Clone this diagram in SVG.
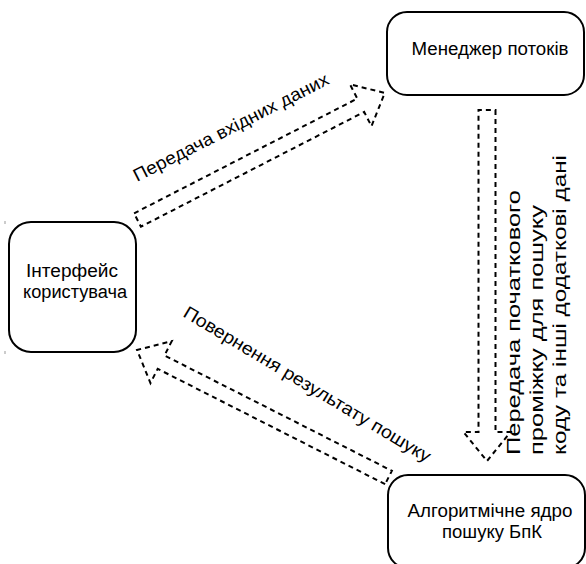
<svg xmlns="http://www.w3.org/2000/svg" width="586" height="564" viewBox="0 0 586 564">
<style>
.box{fill:#fff;stroke:#000;stroke-width:2}
.arr{fill:none;stroke:#000;stroke-width:2;stroke-dasharray:5,4;stroke-linejoin:miter}
text{font-family:"Liberation Sans",Arial,sans-serif;font-size:18px;fill:#000}
.c{text-anchor:middle}
.tick{stroke:#999;stroke-width:1}
</style>
<rect width="586" height="564" fill="#fff"/>
<line class="tick" x1="5" y1="221" x2="5" y2="224"/>
<line class="tick" x1="5" y1="351" x2="5" y2="354"/>
<g id="connectors">
  <g id="arrow-input" transform="translate(137.5,220) rotate(-27.2)">
    <polygon class="arr" points="0,-7.5 251,-7.5 251,-23.5 278,0 251,23.5 251,7.5 0,7.5"/>
  </g>
  <g id="arrow-range" transform="translate(487,110) rotate(90)">
    <polygon class="arr" points="0,-8.5 322,-8.5 322,-23.5 351,0 322,23.5 322,8.5 0,8.5"/>
  </g>
  <g id="arrow-result" transform="translate(388.5,477.5) rotate(206.9)">
    <polygon class="arr" points="0,-7.5 255,-7.5 255,-23.5 282,0 255,23.5 255,7.5 0,7.5"/>
  </g>
  <text transform="translate(137,182) rotate(-27)" textLength="217" lengthAdjust="spacingAndGlyphs">Передача вхідних даних</text>
  <text transform="translate(182,316) rotate(31)" textLength="285" lengthAdjust="spacingAndGlyphs">Повернення результату пошуку</text>
  <g transform="translate(520,455) rotate(-90)">
    <text x="0" y="0" textLength="265" lengthAdjust="spacingAndGlyphs">Передача початкового</text>
    <text x="0" y="23" textLength="250" lengthAdjust="spacingAndGlyphs">проміжку для пошуку</text>
    <text x="0" y="46" textLength="300" lengthAdjust="spacingAndGlyphs">коду та інші додаткові дані</text>
  </g>
</g>
<g id="node-manager">
  <rect class="box" x="387" y="12" width="197" height="83" rx="20"/>
  <text class="c" x="490" y="55" textLength="157" lengthAdjust="spacingAndGlyphs">Менеджер потоків</text>
</g>
<g id="node-ui">
  <rect class="box" x="9" y="222" width="127" height="130" rx="22"/>
  <text class="c" x="72" y="277" textLength="92" lengthAdjust="spacingAndGlyphs">Інтерфейс</text>
  <text class="c" x="75" y="298" textLength="104" lengthAdjust="spacingAndGlyphs">користувача</text>
</g>
<g id="node-core">
  <rect class="box" x="388" y="475" width="197" height="93" rx="20"/>
  <text class="c" x="490" y="517" textLength="165" lengthAdjust="spacingAndGlyphs">Алгоритмічне ядро</text>
  <text class="c" x="492" y="538" textLength="100" lengthAdjust="spacingAndGlyphs">пошуку БпК</text>
</g>
</svg>
